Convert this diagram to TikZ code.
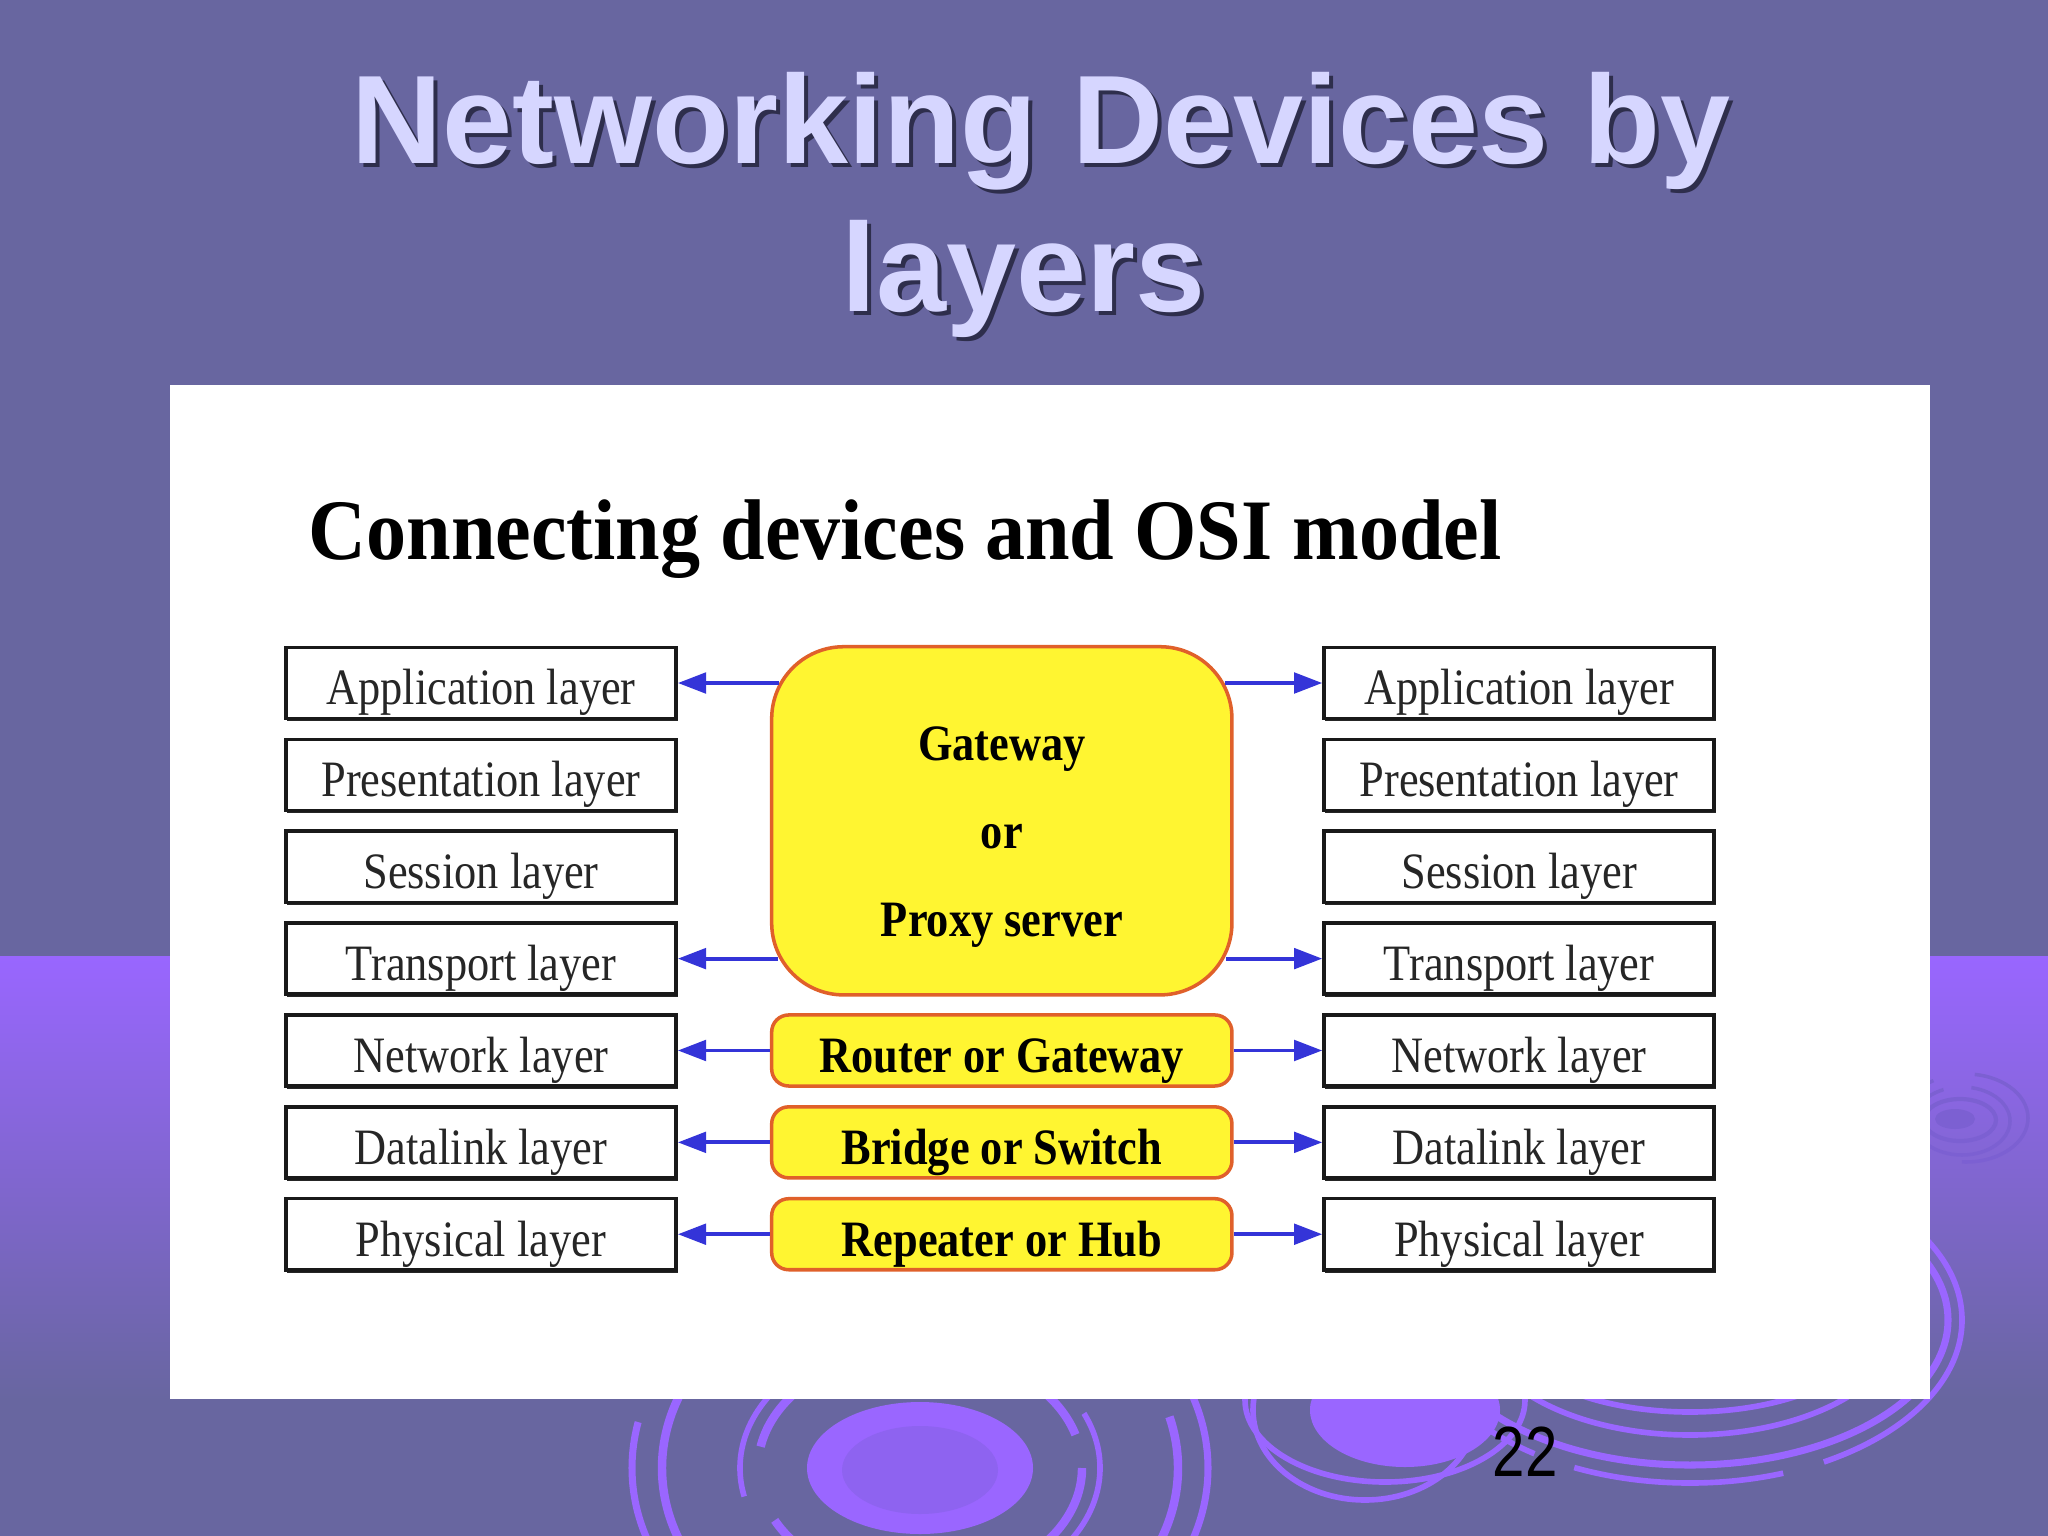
\documentclass[tikz,border=0pt]{standalone}
\usepackage{fontspec}
\setmainfont{Liberation Serif}
\newfontfamily\slidefont{Liberation Sans}
\newfontfamily\pagefont[FakeStretch=0.82]{Liberation Sans}
\newfontfamily\headfont[FakeStretch=0.93]{Liberation Serif}
\newfontfamily\layerfont[FakeStretch=0.87]{Liberation Serif}
\usetikzlibrary{arrows.meta, positioning, calc, shadows}

\definecolor{slideBg}{HTML}{6866A0}
\definecolor{bandTop}{HTML}{9966FF}
\definecolor{rippleLight}{HTML}{9A66FF}
\definecolor{rippleMid}{HTML}{8E63F0}
\definecolor{rippleDark}{HTML}{7C60D2}
\definecolor{titleInk}{HTML}{D6D6FF}
\definecolor{titleShade}{HTML}{2E2E4C}
\definecolor{devFill}{HTML}{FFF531}
\definecolor{devEdge}{HTML}{E0602A}
\definecolor{arrowBlue}{HTML}{3434D8}

\begin{document}
\begin{tikzpicture}[
    x=0.01cm, y=-0.01cm,
    layerBox/.style={
        rectangle,
        draw=black!90,
        line width=1pt,
        fill=white,
        minimum width=3.9cm,
        minimum height=0.71cm,
        inner sep=0pt,
        text height=12.4pt,
        text depth=0pt,
        text=black!85,
        font=\layerfont\fontsize{14.5}{17}\selectfont,
        drop shadow={shadow xshift=0.4pt, shadow yshift=-0.8pt, fill=black!85, opacity=1}
    },
    devBox/.style={
        rectangle,
        draw=devEdge,
        line width=1pt,
        fill=devFill,
        inner sep=0pt,
        align=center,
        font=\layerfont\bfseries\fontsize{14.5}{25}\selectfont
    },
    gateBox/.style={devBox, minimum width=4.6cm, minimum height=3.48cm, rounded corners=0.72cm},
    smallDev/.style={devBox, minimum width=4.6cm, minimum height=0.71cm, rounded corners=0.17cm,
        text height=12.4pt, text depth=0pt},
    slideText/.style={anchor=base, inner sep=0pt, font=\slidefont\bfseries\fontsize{35.8}{42}\selectfont},
    ring/.style={draw=rippleLight, line width=2.4pt, dash pattern=on 110pt off 22pt},
    thinRing/.style={draw=rippleLight, line width=1.6pt, dash pattern=on 150pt off 14pt},
    link/.style={-{Triangle[length=8pt, width=5.8pt]}, line width=1.1pt, draw=arrowBlue}
]
    \useasboundingbox (0,0) rectangle (2048,1536);

    % --- background and ripples ---
    \fill[slideBg] (0,0) rectangle (2048,1536);
    \shade[top color=bandTop, bottom color=slideBg] (0,956) rectangle (2048,1400);

    \fill[rippleLight] (920,1468) ellipse [x radius=113, y radius=66];
    \fill[rippleMid] (920,1470) ellipse [x radius=78, y radius=44];
    \draw[ring] (920,1468) ellipse [x radius=162, y radius=118];
    \draw[ring, line width=1.6pt] (920,1468) ellipse [x radius=180, y radius=132];
    \draw[ring] (920,1468) ellipse [x radius=258, y radius=200];
    \draw[ring, line width=2pt] (920,1468) ellipse [x radius=288, y radius=222];

    \fill[rippleLight] (1405,1410) ellipse [x radius=95, y radius=57];
    \draw[thinRing] (1385,1400) ellipse [x radius=140, y radius=82];
    \draw[thinRing] (1365,1410) ellipse [x radius=112, y radius=90];

    \draw[thinRing] (1690,1320) ellipse [x radius=190, y radius=92];
    \draw[thinRing] (1690,1320) ellipse [x radius=212, y radius=115];
    \draw[thinRing, line width=2pt] (1690,1320) ellipse [x radius=258, y radius=145];
    \draw[thinRing, dash pattern=on 60pt off 12pt] (1690,1320) ellipse [x radius=272, y radius=163];

    \fill[rippleDark] (1955,1119) ellipse [x radius=20, y radius=10];
    \draw[rippleDark, line width=1.2pt] (1960,1120) ellipse [x radius=36, y radius=21];
    \draw[rippleDark, line width=1pt, dash pattern=on 50pt off 8pt] (1962,1121) ellipse [x radius=48, y radius=34];
    \draw[rippleDark, line width=1pt, dash pattern=on 25pt off 12pt] (1966,1118) ellipse [x radius=62, y radius=44];

    % --- slide title ---
    \node[slideText, text=titleShade] (titleTopShade) at (1045,167) {Networking Devices by};
    \node[slideText, text=titleInk] (titleTop) at (1041,163) {Networking Devices by};
    \node[slideText, text=titleShade] (titleBottomShade) at (1028,315) {layers};
    \node[slideText, text=titleInk] (titleBottom) at (1024,311) {layers};

    % --- white panel ---
    \fill[white] (170,385) rectangle (1930,1399);

    \node[anchor=base west, inner sep=0pt, font=\headfont\bfseries\fontsize{24.5}{28}\selectfont] (heading) at (308,559) {Connecting devices and OSI model};

    % --- left stack ---
    \node[layerBox] (appL) at (481,683) {Application layer};
    \node[layerBox, below=0.173cm of appL] (presL) {Presentation layer};
    \node[layerBox, below=0.173cm of presL] (sessL) {Session layer};
    \node[layerBox, below=0.173cm of sessL] (transL) {Transport layer};
    \node[layerBox, below=0.173cm of transL] (netL) {Network layer};
    \node[layerBox, below=0.173cm of netL] (dataL) {Datalink layer};
    \node[layerBox, below=0.173cm of dataL] (physL) {Physical layer};

    % --- right stack ---
    \node[layerBox, right=6.44cm of appL] (appR) {Application layer};
    \node[layerBox, below=0.173cm of appR] (presR) {Presentation layer};
    \node[layerBox, below=0.173cm of presR] (sessR) {Session layer};
    \node[layerBox, below=0.173cm of sessR] (transR) {Transport layer};
    \node[layerBox, below=0.173cm of transR] (netR) {Network layer};
    \node[layerBox, below=0.173cm of netR] (dataR) {Datalink layer};
    \node[layerBox, below=0.173cm of dataR] (physR) {Physical layer};

    % --- devices ---
    \node[gateBox, right=0.92cm of $(appL.east)!0.5!(transL.east)$] (gw) {
        \rule{0pt}{19pt}Gateway\\or\\Proxy server
    };
    \node[smallDev, right=0.92cm of netL] (router) {Router or Gateway};
    \node[smallDev, right=0.92cm of dataL] (bridge) {Bridge or Switch};
    \node[smallDev, right=0.92cm of physL] (repeater) {Repeater or Hub};

    % --- connections ---
    \draw[link, shorten <=-2.6pt] (gw.west |- appL.east) -- (appL.east);
    \draw[link, shorten <=-2.2pt] (gw.west |- transL.east) -- (transL.east);
    \draw[link] (router.west) -- (netL.east);
    \draw[link] (bridge.west) -- (dataL.east);
    \draw[link] (repeater.west) -- (physL.east);

    \draw[link, shorten <=-2.6pt] (gw.east |- appR.west) -- (appR.west);
    \draw[link, shorten <=-2.2pt] (gw.east |- transR.west) -- (transR.west);
    \draw[link] (router.east) -- (netR.west);
    \draw[link] (bridge.east) -- (dataR.west);
    \draw[link] (repeater.east) -- (physR.west);

    % --- page number ---
    \node[inner sep=0pt, font=\pagefont\fontsize{20.2}{24}\selectfont] (pageNo) at (1525,1452) {22};
\end{tikzpicture}
\end{document}
